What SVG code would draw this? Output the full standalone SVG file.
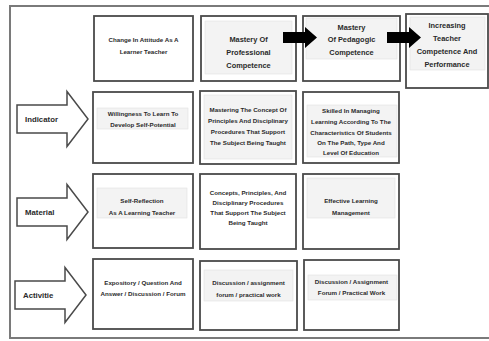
<svg xmlns="http://www.w3.org/2000/svg" width="489" height="341" viewBox="0 0 489 341">
<style>
.box{fill:#fff;stroke:#4a4a4a;stroke-width:1.8}
.inner{fill:#f3f3f3;stroke:#e2e2e2;stroke-width:0.6}
.t{font-family:"Liberation Sans",Arial,sans-serif;font-weight:bold;fill:#2a2a2a;text-anchor:middle}
.s{font-size:6.2px}
.m{font-size:7.4px}
.lbl{font-family:"Liberation Sans",Arial,sans-serif;font-weight:bold;fill:#2a2a2a;font-size:7.8px}
.oarrow{fill:#fff;stroke:#4a4a4a;stroke-width:1.5}
.barrow{fill:#000}
</style>
<defs>
<path id="blk" d="M0,-5.5 H22 V-10.5 L34,0 L22,10.5 V5.5 H0 Z"/>
<path id="out" d="M0,-14 H50 V-27.5 L71,0 L50,27.5 V14 H0 Z"/>
</defs>
<rect width="489" height="341" fill="#fff"/>
<rect x="10" y="6" width="486" height="332" fill="none" stroke="#7a7a7a" stroke-width="2"/>

<g id="indicator">
<use href="#out" class="oarrow" transform="translate(17,119)"/>
<text class="lbl" x="25" y="122">Indicator</text>
</g>
<g id="material">
<use href="#out" class="oarrow" transform="translate(17,212)"/>
<text class="lbl" x="25" y="215">Material</text>
</g>
<g id="activitie">
<use href="#out" class="oarrow" transform="translate(15,295)"/>
<text class="lbl" x="23" y="298">Activitie</text>
</g>

<g id="attitude">
<rect class="box" x="94" y="16" width="99" height="65"/>
<text class="t s" x="143.5" y="42">Change In Attitude As A</text>
<text class="t s" x="143.5" y="54">Learner Teacher</text>
</g>
<g id="professional">
<rect class="box" x="201" y="16" width="95" height="65"/>
<rect class="inner" x="205" y="21" width="87" height="53"/>
<text class="t m" x="248.5" y="42">Mastery Of</text>
<text class="t m" x="248.5" y="55">Professional</text>
<text class="t m" x="248.5" y="68">Competence</text>
</g>
<g id="pedagogic">
<rect class="box" x="303" y="16" width="97" height="65"/>
<rect class="inner" x="306" y="18" width="91" height="41"/>
<text class="t m" x="351.5" y="29.5">Mastery</text>
<text class="t m" x="351.5" y="42">Of Pedagogic</text>
<text class="t m" x="351.5" y="55">Competence</text>
</g>
<g id="increasing">
<rect class="box" x="406" y="14" width="82" height="74"/>
<rect class="inner" x="410" y="17" width="75" height="53"/>
<text class="t m" x="447" y="28">Increasing</text>
<text class="t m" x="447" y="40.5">Teacher</text>
<text class="t m" x="447" y="54">Competence And</text>
<text class="t m" x="447" y="66.5">Performance</text>
</g>

<g id="willingness">
<rect class="box" x="93" y="92" width="100" height="71"/>
<rect class="inner" x="97" y="108" width="91" height="21"/>
<text class="t s" x="143" y="116">Willingness To Learn To</text>
<text class="t s" x="143" y="126.5">Develop Self-Potential</text>
</g>
<g id="mastering">
<rect class="box" x="200" y="91" width="96" height="73"/>
<rect class="inner" x="204" y="95" width="88" height="64"/>
<text class="t s" x="248" y="112">Mastering The Concept Of</text>
<text class="t s" x="248" y="123">Principles And Disciplinary</text>
<text class="t s" x="248" y="134">Procedures That Support</text>
<text class="t s" x="248" y="145">The Subject Being Taught</text>
</g>
<g id="skilled">
<rect class="box" x="303" y="92" width="96" height="71"/>
<rect class="inner" x="307" y="105" width="90" height="52"/>
<text class="t s" x="351" y="113">Skilled In Managing</text>
<text class="t s" x="351" y="124">Learning According To The</text>
<text class="t s" x="351" y="134.5">Characteristics Of Students</text>
<text class="t s" x="351" y="145">On The Path, Type And</text>
<text class="t s" x="351" y="155">Level Of Education</text>
</g>

<g id="selfreflection">
<rect class="box" x="93" y="174" width="100" height="74"/>
<rect class="inner" x="97" y="188" width="90" height="30"/>
<text class="t s" x="142" y="203">Self-Reflection</text>
<text class="t s" x="142" y="214.5">As A Learning Teacher</text>
</g>
<g id="concepts">
<rect class="box" x="200" y="174" width="96" height="75"/>
<text class="t s" x="248" y="195">Concepts, Principles, And</text>
<text class="t s" x="248" y="205">Disciplinary Procedures</text>
<text class="t s" x="248" y="215">That Support The Subject</text>
<text class="t s" x="248" y="225">Being Taught</text>
</g>
<g id="effective">
<rect class="box" x="303" y="174" width="96" height="75"/>
<rect class="inner" x="307" y="178" width="88" height="40"/>
<text class="t s" x="351" y="203">Effective Learning</text>
<text class="t s" x="351" y="215">Management</text>
</g>

<g id="expository">
<rect class="box" x="93" y="259" width="100" height="70"/>
<text class="t s" x="143" y="285">Expository / Question And</text>
<text class="t s" x="143" y="296">Answer / Discussion / Forum</text>
</g>
<g id="discussion1">
<rect class="box" x="200" y="261" width="97" height="69"/>
<rect class="inner" x="204" y="270" width="89" height="31"/>
<text class="t s" x="248.5" y="285">Discussion / assignment</text>
<text class="t s" x="248.5" y="297">forum / practical work</text>
</g>
<g id="discussion2">
<rect class="box" x="304" y="260" width="95" height="70"/>
<rect class="inner" x="308" y="275" width="89" height="25"/>
<text class="t s" x="351.5" y="284">Discussion / Assignment</text>
<text class="t s" x="351.5" y="295">Forum / Practical Work</text>
</g>

<g id="connectors">
<use href="#blk" class="barrow" transform="translate(283,37.5)"/>
<use href="#blk" class="barrow" transform="translate(387,37.5)"/>
</g>
</svg>
